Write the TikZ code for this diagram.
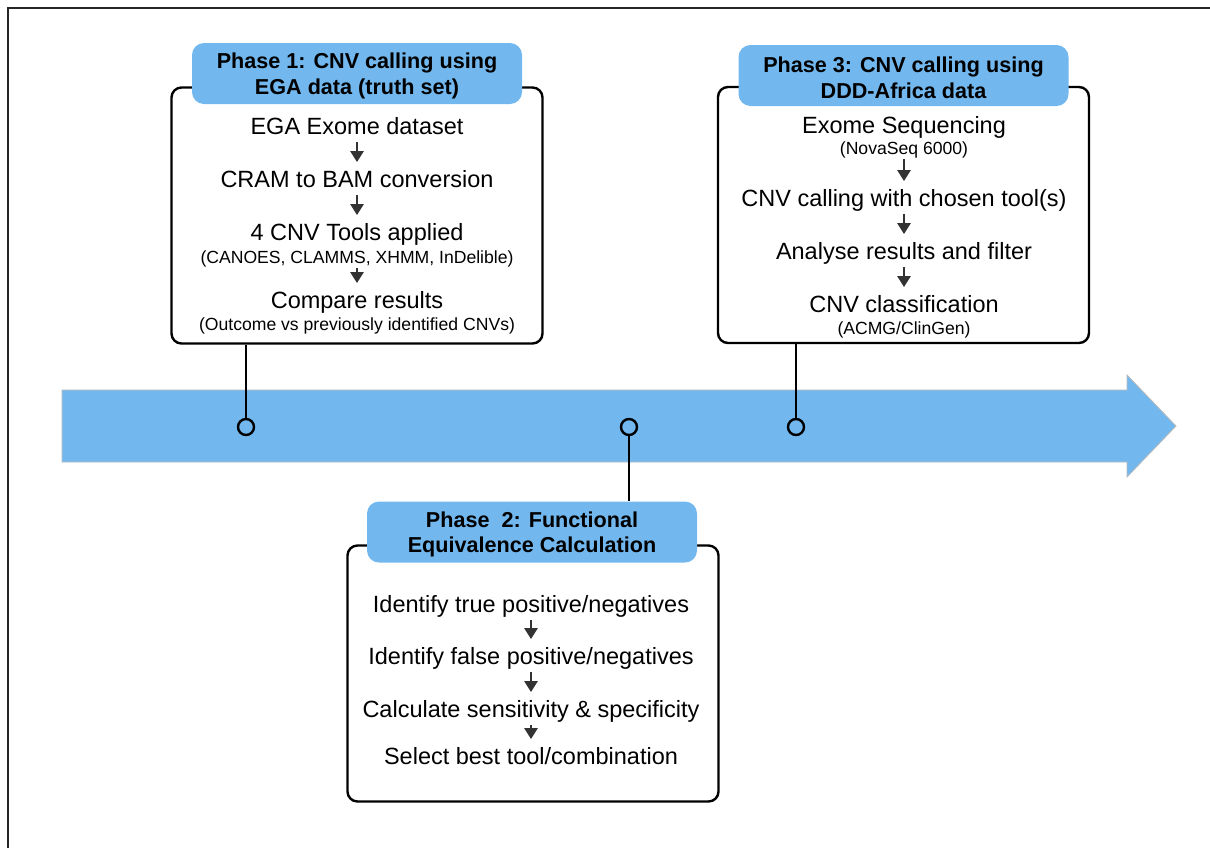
\documentclass[tikz,border=0pt]{standalone}
\usepackage{fontspec}
\setmainfont{Liberation Sans}
\usetikzlibrary{arrows.meta}
\definecolor{phaseblue}{HTML}{72B8EE}
\definecolor{arrowgray}{HTML}{333333}

\begin{document}
\begin{tikzpicture}[x=0.5pt, y=-0.5pt,
  box/.style={draw, line width=1.2pt, rounded corners=5pt, fill=white, minimum width=185.5pt, minimum height=128pt},
  head/.style={fill=phaseblue, rounded corners=6pt, minimum width=165pt, minimum height=30.5pt},
  title/.style={align=center, inner sep=0pt, font=\fontsize{10.8}{12.8}\selectfont\bfseries},
  txt/.style={font=\fontsize{11.75}{14}\selectfont, text height=10.46pt, text depth=2.59pt, inner xsep=0pt, inner ysep=2.23pt},
  sub/.style={font=\fontsize{8.8}{10.5}\selectfont, text height=7.94pt, text depth=1.94pt, inner xsep=0pt, inner ysep=2.06pt},
  down/.style={-{Triangle[width=6.5pt,length=5.5pt]}, line width=1.3pt, arrowgray, shorten <=-1.5pt},
  stem/.style={line width=1.2pt},
  dot/.style={circle, draw, line width=1.2pt, minimum size=8pt, inner sep=0pt}]
\useasboundingbox (0,0) rectangle (1210,847);
\draw [line width=1pt, black!85] (8,8) rectangle (1240,880);

% timeline
\fill [phaseblue, draw=gray!55, line width=0.4pt] (62,390) -- (1127,390) -- (1127,375) -- (1176,426) -- (1127,477) -- (1127,462) -- (62,462) -- cycle;

% phase 1
\node [box] (p1box) at (357,215.5) {};
\node [head] (p1head) at (357,73.5) {};
\node [title] (p1title) at (357,76) {Phase 1: CNV calling using\\EGA data (truth set)};
\node [txt] (p1a) at (357,127) {EGA Exome dataset};
\node [txt] (p1b) at (357,180) {CRAM to BAM conversion};
\node [txt] (p1c) at (357,233) {4 CNV Tools applied};
\node [sub] (p1c2) at (357,257) {(CANOES, CLAMMS, XHMM, InDelible)};
\node [txt] (p1d) at (357,301) {Compare results};
\node [sub] (p1d2) at (357,324) {(Outcome vs previously identified CNVs)};
\draw [down] (p1a) -- (p1b);
\draw [down] (p1b) -- (p1c);
\draw [down] (p1c2) -- (p1d);

% phase 3
\node [box] (p3box) at (903.5,215) {};
\node [head] (p3head) at (903.5,75.5) {};
\node [title] (p3title) at (903.5,78) {Phase 3: CNV calling using\\DDD-Africa data};
\node [txt] (p3a) at (904,126) {Exome Sequencing};
\node [sub] (p3a2) at (904,148) {(NovaSeq 6000)};
\node [txt] (p3b) at (904,199) {CNV calling with chosen tool(s)};
\node [txt] (p3c) at (904,252) {Analyse results and filter};
\node [txt] (p3d) at (904,305) {CNV classification};
\node [sub] (p3d2) at (904,328) {(ACMG/ClinGen)};
\draw [down] (p3a2) -- (p3b);
\draw [down] (p3b) -- (p3c);
\draw [down] (p3c) -- (p3d);

% phase 2
\node [box] (p2box) at (533,673.5) {};
\node [head] (p2head) at (532,532) {};
\node [title] (p2title) at (532,534.5) {Phase\ \ 2: Functional\\Equivalence Calculation};
\node [txt] (p2a) at (531,605) {Identify true positive/negatives};
\node [txt] (p2b) at (531,657) {Identify false positive/negatives};
\node [txt] (p2c) at (531,710) {Calculate sensitivity \& specificity};
\node [txt] (p2d) at (531,757) {Select best tool/combination};
\draw [down] (p2a) -- (p2b);
\draw [down] (p2b) -- (p2c);
\draw [down] (p2c) -- (p2d);

% markers on the timeline
\node [dot] (m1) at (246,427) {};
\node [dot] (m2) at (629,427) {};
\node [dot] (m3) at (796,427) {};
\draw [stem] (m1) -- (m1 |- p1box.south);
\draw [stem] (m3) -- (m3 |- p3box.south);
\draw [stem] (m2) -- (m2 |- p2head.north);
\end{tikzpicture}
\end{document}
